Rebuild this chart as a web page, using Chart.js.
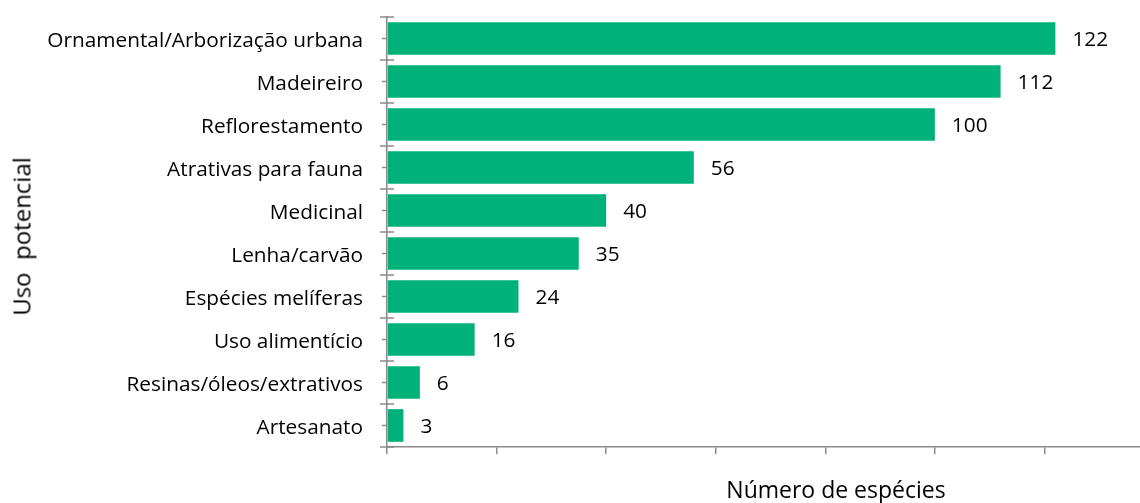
<!DOCTYPE html>
<html lang="pt">
<head>
<meta charset="utf-8">
<title>Uso potencial das espécies</title>
<script src="https://cdn.jsdelivr.net/npm/chart.js@4.4.1/dist/chart.umd.min.js"></script>
<style>
  html, body { margin: 0; padding: 0; background: #fff; overflow: hidden; }
  #wrap { position: relative; width: 1140px; height: 503px; overflow: hidden; }
  #chart { position: absolute; left: 0; top: 0; }
  .axis-title {
    position: absolute; text-align: center; color: #000;
    font-family: "Open Sans", sans-serif; white-space: pre;
  }
  #xTitle {
    left: 636px; top: 475.6px; width: 400px;
    font-size: 23px; line-height: 27.6px;
  }
  #yTitle {
    left: -128.6px; top: 222px; width: 300px;
    font-size: 24px; line-height: 29px;
    transform: rotate(-90deg); transform-origin: 50% 50%;
  }
</style>
</head>
<body>
<div id="wrap">
  <canvas id="chart" width="1154" height="503"></canvas>
  <div id="xTitle" class="axis-title">Número de espécies</div>
  <div id="yTitle" class="axis-title">Uso  potencial</div>
</div>
<script>
// Usos potenciais e número de espécies em cada um
const categories = [
  'Ornamental/Arborização urbana',
  'Madeireiro',
  'Reflorestamento',
  'Atrativas para fauna',
  'Medicinal',
  'Lenha/carvão',
  'Espécies melíferas',
  'Uso alimentício',
  'Resinas/óleos/extrativos',
  'Artesanato'
];
const speciesCount = [122, 112, 100, 56, 40, 35, 24, 16, 6, 3];
const xTicks = [0, 20, 40, 60, 80, 100, 120, 140];

const FONT = '"Open Sans", sans-serif';
const LABEL_SIZE = 20.8;
const AXIS_GREY = '#8a8a8a';
const BAR_GREEN = '#00B27A';

// Marcas do eixo vertical: longas nas divisas entre categorias, curtas no centro
const categoryTicks = {
  id: 'categoryTicks',
  afterDatasetsDraw(chart) {
    const y = chart.scales.y;
    const x0 = chart.chartArea.left;
    const ctx = chart.ctx;
    ctx.save();
    ctx.strokeStyle = AXIS_GREY;
    ctx.lineWidth = 1.5;
    ctx.beginPath();
    for (let i = 0; i <= categories.length; i++) {
      const py = y.getPixelForValue(i - 0.5);
      ctx.moveTo(x0 - 7, py);
      ctx.lineTo(x0 + 7, py);
    }
    for (let i = 0; i < categories.length; i++) {
      const py = y.getPixelForValue(i);
      ctx.moveTo(x0 - 5, py);
      ctx.lineTo(x0, py);
    }
    ctx.stroke();
    ctx.restore();
  }
};

// Rótulos de valor à direita de cada barra
const valueLabels = {
  id: 'valueLabels',
  afterDatasetsDraw(chart) {
    const ctx = chart.ctx;
    const meta = chart.getDatasetMeta(0);
    ctx.save();
    ctx.font = LABEL_SIZE + 'px ' + FONT;
    ctx.fillStyle = '#000';
    ctx.textAlign = 'left';
    ctx.textBaseline = 'middle';
    meta.data.forEach((bar, i) => {
      ctx.fillText(String(speciesCount[i]), bar.x + 17, bar.y + 2);
    });
    ctx.restore();
  }
};

new Chart(document.getElementById('chart'), {
  type: 'bar',
  data: {
    labels: categories,
    datasets: [{
      data: speciesCount,
      backgroundColor: BAR_GREEN,
      borderWidth: 0,
      barPercentage: 0.76,
      categoryPercentage: 1.0
    }]
  },
  options: {
    indexAxis: 'y',
    responsive: false,
    animation: false,
    layout: { padding: { top: 17, right: 0, bottom: 0, left: 0 } },
    plugins: {
      legend: { display: false },
      tooltip: { enabled: false }
    },
    scales: {
      x: {
        min: xTicks[0],
        max: xTicks[xTicks.length - 1],
        afterBuildTicks(scale) {
          scale.ticks = xTicks.map(v => ({ value: v }));
        },
        afterFit(scale) {
          scale.height = 56;
          scale.paddingLeft = 0;
          scale.paddingRight = 0;
        },
        ticks: { display: false },
        grid: {
          display: true,
          drawOnChartArea: false,
          drawTicks: true,
          tickLength: 7,
          color: AXIS_GREY,
          lineWidth: 1.5
        },
        border: { display: true, color: AXIS_GREY, width: 1.5 }
      },
      y: {
        afterFit(scale) {
          scale.width = 387;
          scale.paddingTop = 0;
          scale.paddingBottom = 0;
        },
        grid: { display: false, drawTicks: false },
        border: { display: true, color: AXIS_GREY, width: 1.5 },
        ticks: {
          padding: 24,
          labelOffset: 3,
          color: '#000',
          font: { family: FONT, size: LABEL_SIZE }
        }
      }
    }
  },
  plugins: [categoryTicks, valueLabels]
});
</script>
</body>
</html>
